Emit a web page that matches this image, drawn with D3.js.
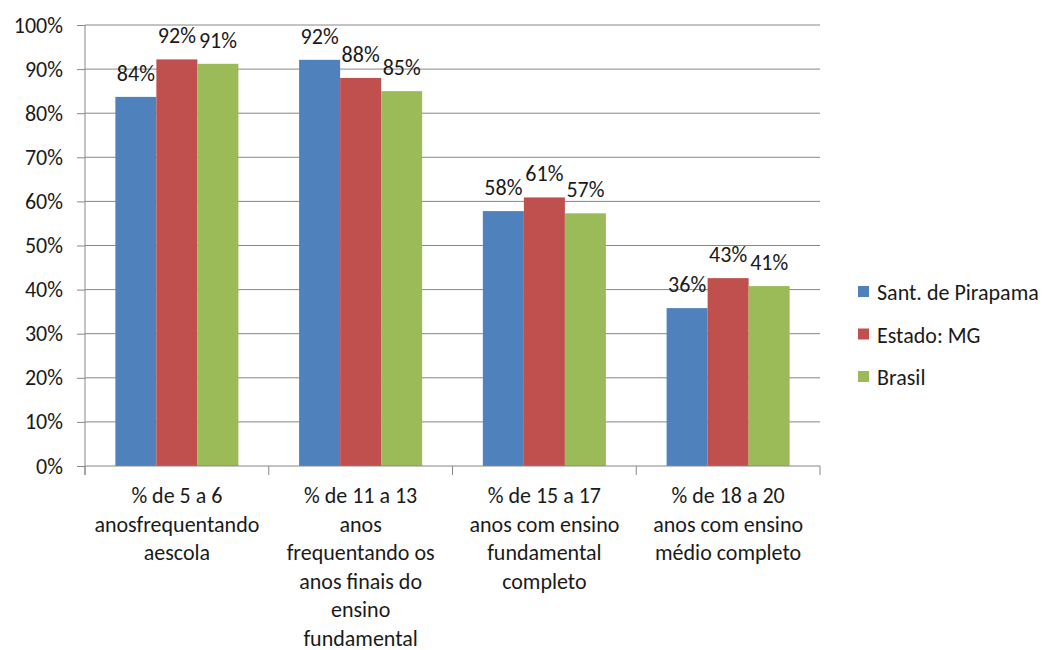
<!DOCTYPE html>
<html>
<head>
<meta charset="utf-8">
<script src="https://cdn.jsdelivr.net/npm/d3@7"></script>
<style>
  body { margin: 0; background: #fff; }
  svg text { font-family: Carlito, Calibri, Lato, sans-serif; fill: #1a1a1a; }
</style>
</head>
<body>
<svg id="chart" width="1051" height="650"></svg>
<script>
const categories = ["c1", "c2", "c3", "c4"];
const categoryLabels = [
  ["% de 5 a 6", "anosfrequentando", "aescola"],
  ["% de 11 a 13", "anos", "frequentando os", "anos finais do", "ensino", "fundamental"],
  ["% de 15 a 17", "anos com ensino", "fundamental", "completo"],
  ["% de 18 a 20", "anos com ensino", "médio completo"]
];
const seriesNames = ["Sant. de Pirapama", "Estado: MG", "Brasil"];
const santValues = [83.7, 92.1, 57.8, 35.8];
const mgValues = [92.2, 88.0, 60.9, 42.6];
const brasilValues = [91.2, 85.0, 57.3, 40.8];
const valueLabels = [
  ["84%", "92%", "58%", "36%"],
  ["92%", "88%", "61%", "43%"],
  ["91%", "85%", "57%", "41%"]
];
const yTicks = [0, 10, 20, 30, 40, 50, 60, 70, 80, 90, 100];
const colors = ["#4F81BD", "#C0504D", "#9BBB59"];

const seriesValues = [santValues, mgValues, brasilValues];
const svg = d3.select("#chart");
const m = { left: 85, right: 820, top: 25, bottom: 466 };
const fs = 22;

const x = d3.scaleBand().domain(categories).range([m.left, m.right]).paddingInner(0).paddingOuter(0);
const inner = d3.scaleBand().domain(d3.range(3)).range([0, x.bandwidth()]).paddingInner(0).paddingOuter(0.74);
const y = d3.scaleLinear().domain([0, 100]).range([m.bottom, m.top]);

// gridlines
svg.append("g").selectAll("line").data(yTicks.filter(d => d > 0)).join("line")
  .attr("x1", m.left).attr("x2", m.right)
  .attr("y1", d => y(d)).attr("y2", d => y(d))
  .attr("stroke", "#878787").attr("stroke-width", 1);

// y axis
const yAxis = d3.axisLeft(y).tickValues(yTicks).tickFormat(d => d + "%").tickSize(8).tickPadding(14);
const gy = svg.append("g").attr("transform", `translate(${m.left},0)`).call(yAxis);
gy.select(".domain").attr("stroke", "#878787").attr("d", `M0,${m.top}V${m.bottom + 9}`);
gy.selectAll(".tick line").attr("stroke", "#878787");
gy.selectAll(".tick text").style("font-size", fs + "px").attr("fill", "#1a1a1a");

// bars
seriesValues.forEach((vals, si) => {
  svg.append("g").selectAll("rect").data(categories).join("rect")
    .attr("x", (c) => x(c) + inner(si))
    .attr("width", inner.bandwidth())
    .attr("y", (c, i) => y(vals[i]))
    .attr("height", (c, i) => y(0) - y(vals[i]))
    .attr("fill", colors[si]);
  svg.append("g").selectAll("text").data(categories).join("text")
    .attr("x", (c) => x(c) + inner(si) + inner.bandwidth() / 2)
    .attr("y", (c, i) => y(vals[i]) - 16)
    .attr("text-anchor", "middle")
    .style("font-size", fs + "px")
    .text((c, i) => valueLabels[si][i]);
});

// x axis
svg.append("line").attr("x1", m.left).attr("x2", m.right).attr("y1", y(0)).attr("y2", y(0))
  .attr("stroke", "#878787");
const bounds = categories.map(c => x(c)).concat([m.right]);
svg.append("g").selectAll("line").data(bounds).join("line")
  .attr("x1", d => d).attr("x2", d => d).attr("y1", y(0)).attr("y2", y(0) + 9)
  .attr("stroke", "#878787");

categories.forEach((c, i) => {
  const t = svg.append("text").attr("text-anchor", "middle").style("font-size", fs + "px");
  categoryLabels[i].forEach((line, li) => {
    t.append("tspan").attr("x", x(c) + x.bandwidth() / 2).attr("y", 503 + li * 28.6).text(line);
  });
});

// legend
const lg = svg.append("g");
seriesNames.forEach((n, i) => {
  const cy = 292 + i * 42.5;
  lg.append("rect").attr("x", 858).attr("y", cy - 6).attr("width", 11).attr("height", 11).attr("fill", colors[i]);
  lg.append("text").attr("x", 877).attr("y", cy + 8).style("font-size", fs + "px").text(n);
});
</script>
</body>
</html>
